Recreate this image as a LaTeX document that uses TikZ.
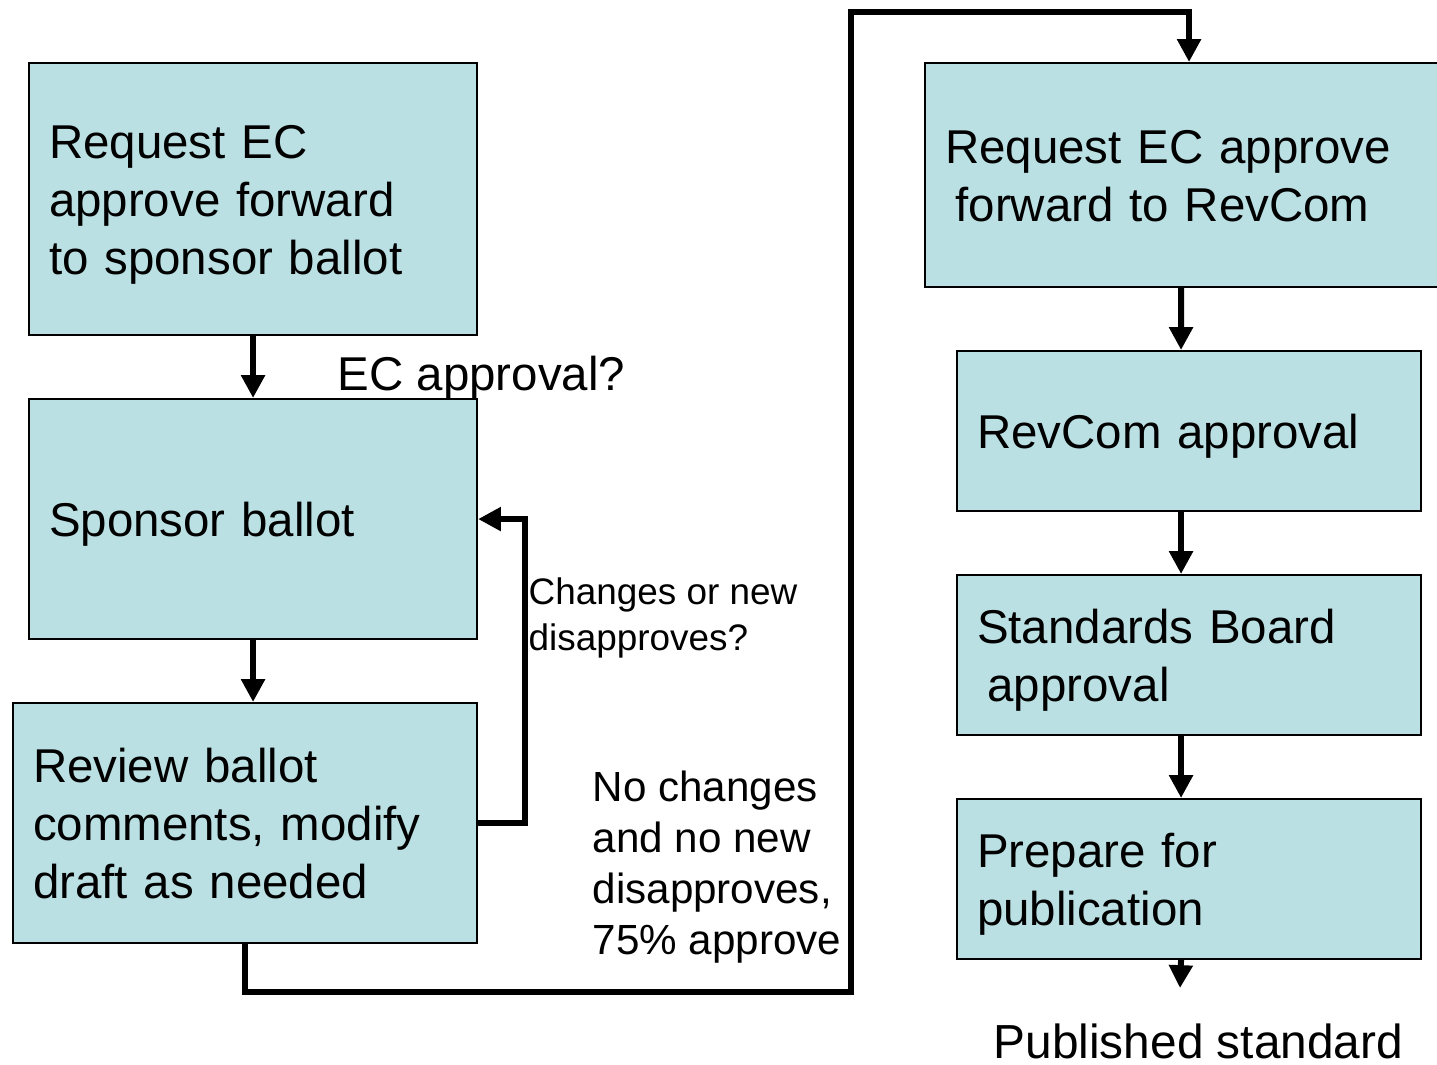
\documentclass[tikz,border=0pt]{standalone}
\usepackage{fontspec}
\setmainfont{Liberation Sans}
\usetikzlibrary{arrows.meta}
\definecolor{stagefill}{HTML}{BAE0E3}
\begin{document}
\begin{tikzpicture}[
    stage/.style={draw=black, line width=0.6pt, fill=stagefill, anchor=north west,
        align=left, inner xsep=0.2cm, font=\fontsize{13.5}{16.5}\selectfont,
        execute at begin node=\rule{0pt}{12.6pt},
        execute at end node=\rule[-2.8pt]{0pt}{0pt}},
    flow/.style={draw, line width=1.7pt, -{Triangle[width=6.5pt,length=6.5pt]}},
    note/.style={inner sep=0pt, align=left}]
    \useasboundingbox (0,0) rectangle (14.37,-10.65);
    % left column
    \node [stage, text width=4.08cm, minimum height=2.72cm] (ecreq) at (0.28,-0.62)
        {Request EC\\approve forward\\to sponsor ballot};
    \node [stage, text width=4.08cm, minimum height=2.40cm] (sponsor) at (0.28,-3.98)
        {Sponsor ballot};
    \node [stage, text width=4.24cm, minimum height=2.40cm] (review) at (0.12,-7.02)
        {Review ballot\\comments, modify\\draft as needed};
    % right column
    \node [stage, text width=4.88cm, minimum height=2.24cm] (revreq) at (9.24,-0.62)
        {Request EC approve\\\hspace*{3pt}forward to RevCom};
    \node [stage, text width=4.24cm, minimum height=1.60cm] (revcom) at (9.56,-3.50)
        {RevCom approval};
    \node [stage, text width=4.24cm, minimum height=1.60cm] (sbapp) at (9.56,-5.74)
        {Standards Board\\\hspace*{3pt}approval};
    \node [stage, text width=4.24cm, minimum height=1.60cm] (prep) at (9.56,-7.98)
        {Prepare for\\publication};
    % labels
    \node [note, anchor=base west, font=\fontsize{13.5}{16.5}\selectfont] (ecq) at (3.37,-3.90)
        {EC approval?};
    \node [note, anchor=north west, font=\fontsize{10.5}{13}\selectfont] (chq) at (5.28,-5.77)
        {Changes or new\\disapproves?};
    \node [note, anchor=north west, font=\fontsize{12}{14.5}\selectfont] (nochg) at (5.92,-7.70)
        {No changes\\and no new\\disapproves,\\75\% approve};
    \node [note, anchor=base west, font=\fontsize{13.6}{16}\selectfont] (pub) at (9.93,-10.58)
        {Published standard};
    \coordinate (pubend) at (11.80,-9.88);
    % connectors
    \draw [flow] (ecreq.south) -- (sponsor.north);
    \draw [flow] (sponsor.south) -- (sponsor.south |- review.north);
    \draw [flow] (review.east) -- ++(0.47,0) |- (sponsor.east);
    \draw [flow] (review.south) -- ++(0,-0.48) -| (8.51,-0.12) -| (revreq.north);
    \foreach \a/\b in {revreq/revcom, revcom/sbapp, sbapp/prep}
        \draw [flow] ([xshift=-0.08cm]\a.south) -- ([xshift=-0.08cm]\b.north);
    \draw [flow] ([xshift=-0.08cm]prep.south) -- (pubend);
\end{tikzpicture}
\end{document}
